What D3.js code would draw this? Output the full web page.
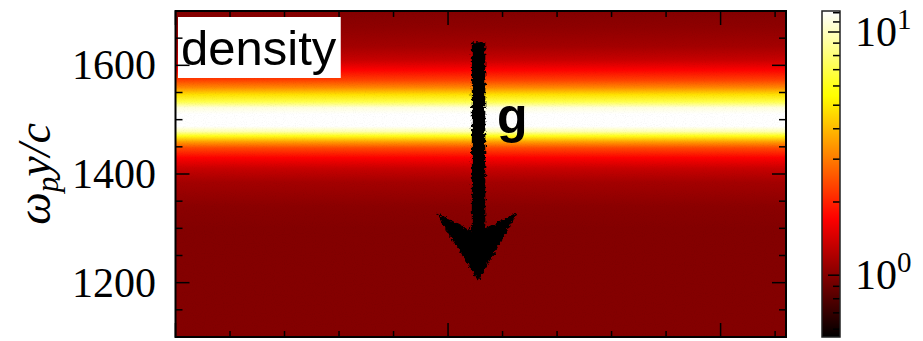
<!DOCTYPE html>
<html>
<head>
<meta charset="utf-8">
<title>density</title>
<style>
  body { margin: 0; background: #fff; }
  svg { display: block; }
</style>
</head>
<body>
<div id="chart"></div>
<script src="https://d3js.org/d3.v7.min.js"></script>
<script>
// density profile across the band (omega_p y / c -> density)
const profileY = [1700, 1670, 1635, 1610, 1592, 1573, 1559, 1546, 1533, 1522, 1510, 1500, 1488, 1478, 1470, 1459, 1448, 1430, 1410, 1385, 1340, 1300, 1100];
const profileN = [1.0, 1.05, 1.15, 1.35, 1.7, 2.3, 3.2, 4.8, 7, 11, 14, 15, 13, 9.5, 6, 3.5, 2.4, 1.7, 1.35, 1.15, 1.03, 1.0, 1.0];

// gravity arrow outline, in data units
const arrowX = [545, 567, 567, 623, 617, 555, 489, 482, 545];
const arrowY = [1641, 1641, 1297, 1326, 1312, 1206, 1312, 1326, 1293];

const yTicks = [1200, 1400, 1600];
const xMajor = [0, 500, 1000];
const cbTicks = [1, 10];
const cbMinor = [0.6, 0.7, 0.8, 0.9, 2, 3, 4, 5, 6, 7, 8, 9, 11, 12];

const W = 923, H = 341;
const plot = { left: 175.5, right: 786, top: 11, bottom: 337 };
const cb = { left: 822, right: 840 };

const svg = d3.select("#chart").append("svg")
    .attr("width", W).attr("height", H);

const x = d3.scaleLinear().domain([0, 1120]).range([plot.left, plot.right]);
const y = d3.scaleLinear().domain([1100, 1700]).range([plot.bottom, plot.top]);
const c = d3.scaleLog().domain([0.557, 12.2]).range([plot.bottom, plot.top]);

// matplotlib "hot"
function hot(t) {
    t = Math.max(0, Math.min(1, t));
    const r = Math.min(1, t / 0.365);
    const g = Math.max(0, Math.min(1, (t - 0.365) / 0.375));
    const b = Math.max(0, Math.min(1, (t - 0.746) / 0.254));
    return d3.rgb(r * 255, g * 255, b * 255).formatHex();
}
const norm = d3.scaleLog().domain(c.domain()).range([0, 1]).clamp(true);
const color = n => hot(norm(n));

const defs = svg.append("defs");

// band gradient
const grad = defs.append("linearGradient")
    .attr("id", "band").attr("gradientUnits", "userSpaceOnUse")
    .attr("x1", 0).attr("x2", 0).attr("y1", plot.top).attr("y2", plot.bottom);
profileY.forEach((v, i) => {
    grad.append("stop")
        .attr("offset", (y(v) - plot.top) / (plot.bottom - plot.top))
        .attr("stop-color", color(profileN[i]));
});

// colorbar gradient
const cgrad = defs.append("linearGradient")
    .attr("id", "cbar").attr("gradientUnits", "userSpaceOnUse")
    .attr("x1", 0).attr("x2", 0).attr("y1", plot.bottom).attr("y2", plot.top);
d3.range(0, 1.0001, 0.02).forEach(t => {
    cgrad.append("stop").attr("offset", t).attr("stop-color", hot(t));
});

// speckle texture
const f = defs.append("filter").attr("id", "speckle")
    .attr("x", 0).attr("y", 0).attr("width", 1).attr("height", 1);
f.append("feTurbulence").attr("type", "fractalNoise")
    .attr("baseFrequency", 0.9).attr("numOctaves", 1).attr("seed", 3);
f.append("feColorMatrix").attr("type", "matrix")
    .attr("values", "0 0 0 0 0  0 0 0 0 0  0 0 0 0 0  0 0 0 -1.6 0.8");
f.append("feComposite").attr("in2", "SourceGraphic").attr("operator", "in");

const rough = defs.append("filter").attr("id", "rough")
    .attr("x", "-20%").attr("y", "-10%").attr("width", "140%").attr("height", "120%");
rough.append("feTurbulence").attr("type", "fractalNoise")
    .attr("baseFrequency", 0.35).attr("numOctaves", 2).attr("seed", 7).attr("result", "n");
rough.append("feDisplacementMap").attr("in", "SourceGraphic").attr("in2", "n")
    .attr("scale", 6).attr("xChannelSelector", "R").attr("yChannelSelector", "G");

// heatmap
svg.append("rect")
    .attr("x", plot.left).attr("y", plot.top)
    .attr("width", plot.right - plot.left).attr("height", plot.bottom - plot.top)
    .attr("fill", "url(#band)");
svg.append("rect")
    .attr("x", plot.left).attr("y", plot.top)
    .attr("width", plot.right - plot.left).attr("height", plot.bottom - plot.top)
    .attr("fill", "#000").attr("opacity", 0.07)
    .attr("filter", "url(#speckle)");

// arrow
svg.append("path")
    .datum(arrowX.map((v, i) => [v, arrowY[i]]))
    .attr("d", d3.line().x(d => x(d[0])).y(d => y(d[1])).curve(d3.curveLinearClosed))
    .attr("fill", "#000")
    .attr("stroke", "#000").attr("stroke-width", 1.5)
    .attr("filter", "url(#rough)");

svg.append("text")
    .attr("x", x(590)).attr("y", y(1475))
    .attr("font-family", "Liberation Sans, Arial, sans-serif")
    .attr("font-weight", "bold").attr("font-size", 50)
    .text("g");

// density label with white box
const lab = svg.append("g");
const labText = lab.append("text")
    .attr("x", 181).attr("y", 65)
    .attr("font-family", "Liberation Sans, Arial, sans-serif")
    .attr("font-size", 49)
    .text("density");
const bb = labText.node().getBBox();
lab.insert("rect", "text")
    .attr("x", 178).attr("y", 17)
    .attr("width", bb.x + bb.width + 4 - 178).attr("height", 61)
    .attr("fill", "#fff");

// ticks
const ticksG = svg.append("g").attr("stroke", "#000").attr("stroke-width", 1.5);
const yMinor = d3.range(1100, 1701, 50);
const xMinor = d3.range(0, 1121, 100);
yMinor.forEach(v => {
    const L = yTicks.includes(v) ? 14 : 7;
    ticksG.append("line").attr("x1", plot.left).attr("x2", plot.left + L).attr("y1", y(v)).attr("y2", y(v));
    ticksG.append("line").attr("x1", plot.right).attr("x2", plot.right - L).attr("y1", y(v)).attr("y2", y(v));
});
xMinor.forEach(v => {
    const L = xMajor.includes(v) ? 14 : 6;
    ticksG.append("line").attr("y1", plot.top).attr("y2", plot.top + L).attr("x1", x(v)).attr("x2", x(v));
    ticksG.append("line").attr("y1", plot.bottom).attr("y2", plot.bottom - L).attr("x1", x(v)).attr("x2", x(v));
});

// frame
svg.append("rect")
    .attr("x", plot.left).attr("y", plot.top)
    .attr("width", plot.right - plot.left).attr("height", plot.bottom - plot.top)
    .attr("fill", "none").attr("stroke", "#000").attr("stroke-width", 2);

// y tick labels
svg.append("g").selectAll("text").data(yTicks).join("text")
    .attr("x", 156).attr("y", d => y(d))
    .attr("dy", "0.33em")
    .attr("text-anchor", "end")
    .attr("font-family", "Liberation Serif, Times New Roman, serif")
    .attr("font-size", 42)
    .text(d => d);

// y label
const yl = svg.append("text")
    .attr("transform", `translate(50,${(plot.top + plot.bottom) / 2}) rotate(-90)`)
    .attr("text-anchor", "middle")
    .attr("font-family", "Liberation Serif, Times New Roman, serif")
    .attr("font-style", "italic")
    .attr("font-size", 46);
yl.append("tspan").text("ω");
yl.append("tspan").attr("font-size", 31).attr("dy", 8).text("p");
yl.append("tspan").attr("dy", -8).text("y/c");

// colorbar
svg.append("rect")
    .attr("x", cb.left).attr("y", plot.top)
    .attr("width", cb.right - cb.left).attr("height", plot.bottom - plot.top)
    .attr("fill", "url(#cbar)");
const cbG = svg.append("g").attr("stroke", "#000").attr("stroke-width", 1.5);
cbMinor.concat(cbTicks).forEach(v => {
    const L = cbTicks.includes(v) ? 12 : 7;
    cbG.append("line").attr("x1", cb.right).attr("x2", cb.right - L).attr("y1", c(v)).attr("y2", c(v));
});
svg.append("rect")
    .attr("x", cb.left).attr("y", plot.top)
    .attr("width", cb.right - cb.left).attr("height", plot.bottom - plot.top)
    .attr("fill", "none").attr("stroke", "#222").attr("stroke-width", 1.5);

const cbl = svg.append("g").selectAll("text").data(cbTicks).join("text")
    .attr("x", 855).attr("y", d => c(d))
    .attr("dy", "0.33em")
    .attr("font-family", "Liberation Serif, Times New Roman, serif")
    .attr("font-size", 42);
cbl.append("tspan").text("10");
cbl.append("tspan").attr("font-size", 29).attr("dy", -17).text(d => Math.round(Math.log10(d)));
</script>
</body>
</html>
